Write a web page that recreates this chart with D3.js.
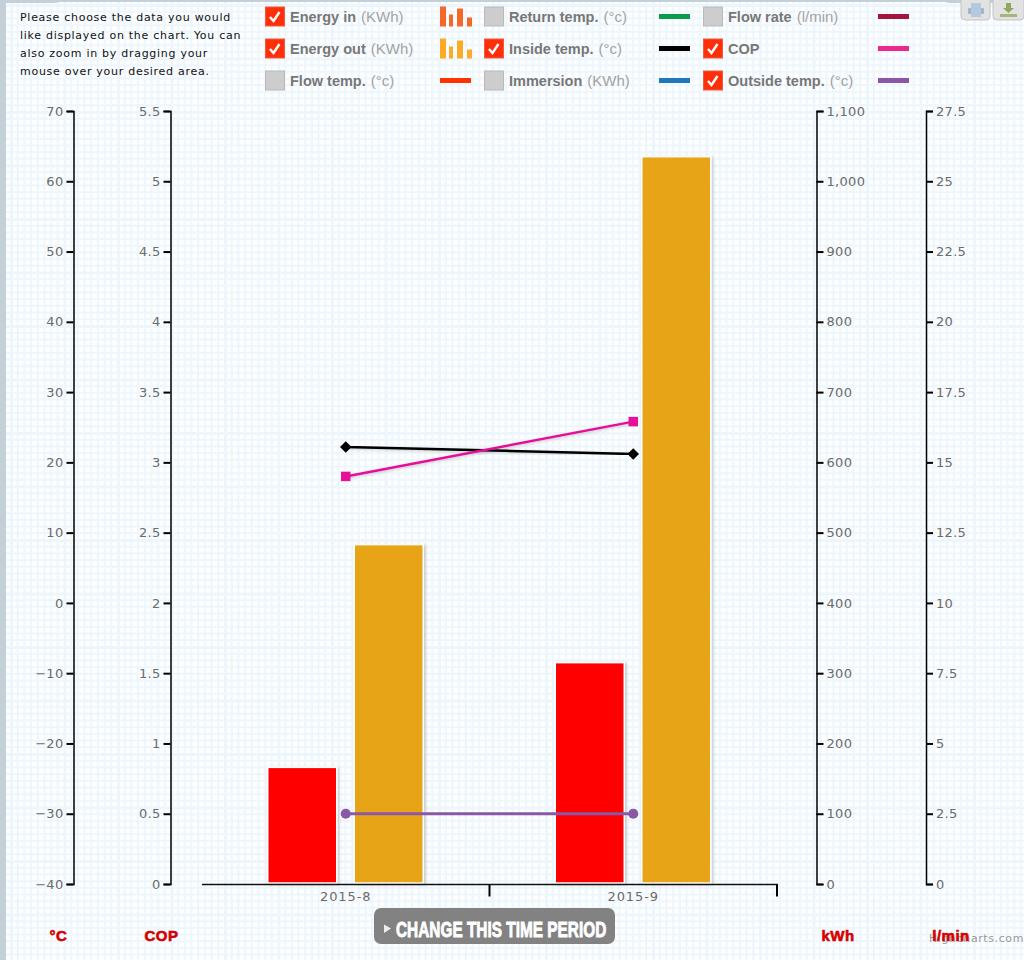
<!DOCTYPE html>
<html><head><meta charset="utf-8">
<script src="https://cdn.jsdelivr.net/npm/d3@7/dist/d3.min.js"></script>
<style>html,body{margin:0;padding:0;background:#fff}svg{display:block}</style>
</head><body><svg id="c" width="1024" height="960"></svg>
<script>
const categories = ["2015-8", "2015-9"];
const energyIn = [166, 315];
const energyOut = [483, 1035];
const cop = [2.9, 3.29];
const insideTemp = [22.2, 21.2];
const outsideTemp = [-30, -30];
const tempTicks = d3.range(-40, 71, 10);
const copTicks = d3.range(0, 5.51, 0.5);
const kwhTicks = d3.range(0, 1101, 100);
const flowTicks = d3.range(0, 27.51, 2.5);
const introLines = ["Please choose the data you would", "like displayed on the chart. You can", "also zoom in by dragging your", "mouse over your desired area."];
const legendNames = ["Energy in", "Energy out", "Flow temp.", "Return temp.", "Inside temp.", "Immersion", "Flow rate", "COP", "Outside temp."];
const legendUnits = ["(KWh)", "(KWh)", "(°c)", "(°c)", "(°c)", "(KWh)", "(l/min)", "", "(°c)"];
const legendChecked = [true, true, false, false, true, false, false, true, true];
const legendColors = ["#f4682a", "#fbab26", "#ff3300", "#0c9a4c", "#000000", "#1f77bc", "#a5143c", "#ec2a8c", "#8b55a8"];
const legendBars = [true, true, false, false, false, false, false, false, false];
const axisTitles = ["°C", "COP", "kWh", "l/min"];

const svg = d3.select("#c");
const defs = svg.append("defs");
const pat = defs.append("pattern").attr("id", "g").attr("patternUnits", "userSpaceOnUse")
  .attr("width", 53.5).attr("height", 53.5).attr("x", 10).attr("y", 4);
d3.range(0, 8).forEach(i => {
  const p = i * 53.5 / 8, w = i === 0 ? 3 : 2;
  pat.append("rect").attr("x", p).attr("y", 0).attr("width", w).attr("height", 53.5).attr("fill", "#ecf6fc");
  pat.append("rect").attr("y", p).attr("x", 0).attr("height", w).attr("width", 53.5).attr("fill", "#ecf6fc");
});
const shadow = defs.append("filter").attr("id", "s").attr("x", "-10%").attr("y", "-10%").attr("width", "125%").attr("height", "125%");
shadow.append("feDropShadow").attr("dx", 1.5).attr("dy", 1).attr("stdDeviation", 1.4).attr("flood-color", "#000").attr("flood-opacity", 0.2);

svg.append("rect").attr("width", 1024).attr("height", 960).attr("fill", "#fff");
svg.append("rect").attr("width", 1024).attr("height", 960).attr("fill", "url(#g)");
svg.append("rect").attr("width", 6).attr("height", 960).attr("fill", "#c3d0d8");
svg.append("path").attr("d", "M0 0H1024V3H950L945 2H60L55 3H0Z").attr("fill", "#c3d0d8");

const sans = "Liberation Sans, Arial, sans-serif", dj = "DejaVu Sans, Verdana, sans-serif";
svg.append("g").selectAll("text").data(introLines).join("text")
  .attr("x", 20).attr("y", (d, i) => 20.5 + i * 18.2).attr("font-family", dj).attr("font-size", 11)
  .attr("letter-spacing", 0.72).attr("fill", "#111").text(d => d);

// legend
const colX = [265, 484, 703], rowY = [16.5, 48.5, 80.5], swX = [440, 659, 878];
const leg = svg.append("g").selectAll("g").data(legendNames).join("g")
  .attr("transform", (d, i) => `translate(${colX[Math.floor(i / 3)]},${rowY[i % 3]})`);
leg.append("rect").attr("x", 0.5).attr("y", -9.5).attr("width", 19).attr("height", 19)
  .attr("fill", (d, i) => legendChecked[i] ? "#ff2f0a" : "#cdcdcd")
  .attr("stroke", (d, i) => legendChecked[i] ? "#f05a40" : "#b9b9b9");
leg.filter((d, i) => legendChecked[i]).append("path").attr("d", "M5 0.5L8.5 4.5L14.5 -4.5")
  .attr("fill", "none").attr("stroke", "#fff").attr("stroke-width", 2.4);
const lt = leg.append("text").attr("x", 25).attr("y", 5.5).attr("font-family", sans).attr("font-size", 14.5).attr("fill", "#777");
lt.append("tspan").attr("font-weight", "bold").text(d => d);
lt.append("tspan").attr("fill", "#a3a3a3").attr("dx", 5).attr("font-size", 15).text((d, i) => legendUnits[i]);
legendNames.forEach((d, i) => {
  const x0 = swX[Math.floor(i / 3)], y0 = rowY[i % 3];
  if (legendBars[i]) {
    [[0, 6, 20], [9, 4, 12], [17, 6, 18], [27, 5, 9]].forEach(b => svg.append("rect").attr("x", x0 + b[0]).attr("y", y0 + 10 - b[2]).attr("width", b[1]).attr("height", b[2]).attr("fill", legendColors[i]));
  } else {
    svg.append("rect").attr("x", x0).attr("y", y0 - 2.5).attr("width", 31).attr("height", 5).attr("fill", legendColors[i]);
  }
});

// export buttons
svg.append("rect").attr("x", 961).attr("y", -8).attr("width", 29).attr("height", 28).attr("rx", 4).attr("fill", "#e2e2e2").attr("stroke", "#c4c4c4");
svg.append("rect").attr("x", 993).attr("y", -8).attr("width", 31).attr("height", 28).attr("rx", 4).attr("fill", "#e2e2e2").attr("stroke", "#c4c4c4");
svg.append("rect").attr("x", 968).attr("y", 8).attr("width", 16).attr("height", 6).attr("rx", 1).attr("fill", "#9fb6cf");
svg.append("rect").attr("x", 971).attr("y", 3).attr("width", 10).attr("height", 14).attr("fill", "#b4c8de");
svg.append("path").attr("d", "M1006 3H1011V8H1014L1008.500 13L1003 8H1006Z").attr("fill", "#8fa85e");
svg.append("rect").attr("x", 1000).attr("y", 14).attr("width", 17).attr("height", 3).attr("fill", "#a3b878");

// scales
const plotTop = 111, plotBottom = 884;
const yTemp = d3.scaleLinear().domain([-40, 70]).range([plotBottom, plotTop]);
const yCop = d3.scaleLinear().domain([0, 5.5]).range([plotBottom, plotTop]);
const yKwh = d3.scaleLinear().domain([0, 1100]).range([plotBottom, plotTop]);
const yFlow = d3.scaleLinear().domain([0, 27.5]).range([plotBottom, plotTop]);
const x = d3.scaleBand().domain(categories).range([202, 777]).paddingInner(0).paddingOuter(0);

function axis(gen, xp, ticks, fmt) {
  const g = svg.append("g").attr("transform", `translate(${xp},0)`)
    .call(gen.tickValues(ticks).tickSize(7).tickPadding(3).tickFormat(fmt));
  g.selectAll("path").attr("stroke", "#000").attr("stroke-width", 1.5);
  g.selectAll("line").attr("stroke", "#000").attr("stroke-width", 2);
  g.selectAll("text").attr("font-family", dj).attr("font-size", 13).attr("letter-spacing", 0.3).attr("fill", "#6b6b6b");
  return g;
}
const minus = d => d3.format("")(d).replace("-", "−");
axis(d3.axisLeft(yTemp), 73.5, tempTicks, minus);
axis(d3.axisLeft(yCop), 170.5, copTicks, minus);
axis(d3.axisRight(yKwh), 816.5, kwhTicks, d3.format(","));
axis(d3.axisRight(yFlow), 926, flowTicks, minus);

// bars
const barW = 69;
function bars(vals, color, dx) {
  svg.append("g").selectAll("rect").data(vals).join("rect")
    .attr("x", (d, i) => x.bandwidth() / 2 + x(categories[i]) + dx)
    .attr("y", d => yKwh(d)).attr("width", barW).attr("height", d => plotBottom - 1 - yKwh(d))
    .attr("fill", color).attr("stroke", "#fff").attr("stroke-width", 1.5).attr("filter", "url(#s)");
}
bars(energyIn, "#ff0000", -78);
bars(energyOut, "#e7a418", 8.5);

// x axis
const ax = svg.append("g").attr("transform", `translate(0,${plotBottom + 0.5})`);
ax.append("line").attr("x1", 202).attr("x2", 778).attr("stroke", "#111").attr("stroke-width", 1.5);
[x("2015-9"), 777].forEach(t => ax.append("line").attr("x1", t).attr("x2", t).attr("y1", 0).attr("y2", 12).attr("stroke", "#000").attr("stroke-width", 2));
ax.selectAll("text").data(categories).join("text")
  .attr("x", d => x(d) + x.bandwidth() / 2).attr("y", 16).attr("text-anchor", "middle")
  .attr("font-family", dj).attr("font-size", 13).attr("letter-spacing", 0.9).attr("fill", "#6b6b6b").text(d => d);

// lines
const px = i => x(categories[i]) + x.bandwidth() / 2;
function series(vals, scale, color, w, marker, filter) {
  const line = d3.line().x((d, i) => px(i)).y(d => scale(d));
  svg.append("path").datum(vals).attr("d", line).attr("fill", "none").attr("stroke", color).attr("stroke-width", w).attr("filter", filter);
  svg.append("g").selectAll("path").data(vals).join("path")
    .attr("transform", (d, i) => `translate(${px(i)},${scale(d)})`)
    .attr("d", d3.symbol().type(marker[0]).size(marker[1])()).attr("fill", color);
}
series(insideTemp, yTemp, "#000", 2.5, [d3.symbolDiamond2 || d3.symbolDiamond, 85], "url(#s)");
series(cop, yCop, "#e6119a", 2.5, [d3.symbolSquare, 90], "url(#s)");
series(outsideTemp, yTemp, "#8a58a6", 3, [d3.symbolCircle, 80], null);

// axis titles
const tx = [58.5, 161.5, 838, 951];
svg.append("text").attr("x", 1024).attr("y", 942).attr("text-anchor", "end").attr("font-family", dj).attr("font-size", 11).attr("letter-spacing", 0.6).attr("fill", "#999").text("Highcharts.com");
svg.append("g").selectAll("text").data(axisTitles).join("text")
  .attr("x", (d, i) => tx[i]).attr("y", 941).attr("text-anchor", "middle").attr("font-family", sans)
  .attr("font-weight", "bold").attr("font-size", 15).attr("letter-spacing", 0.5).attr("fill", "#e00000").attr("stroke", "#c80000").attr("stroke-width", 0.6).text(d => d);

// button
svg.append("rect").attr("x", 374).attr("y", 908).attr("width", 241).attr("height", 36).attr("rx", 7).attr("fill", "#828282");
svg.append("path").attr("d", "M384 924.5L391 928.5L384 933Z").attr("fill", "#eee");
svg.append("text").attr("transform", "translate(396,936.500) scale(0.7,1)").attr("font-family", sans).attr("font-weight", "bold")
  .attr("font-size", 22).attr("fill", "#fff").attr("stroke", "#fff").attr("stroke-width", 0.9).text("CHANGE THIS TIME PERIOD");
</script></body></html>
